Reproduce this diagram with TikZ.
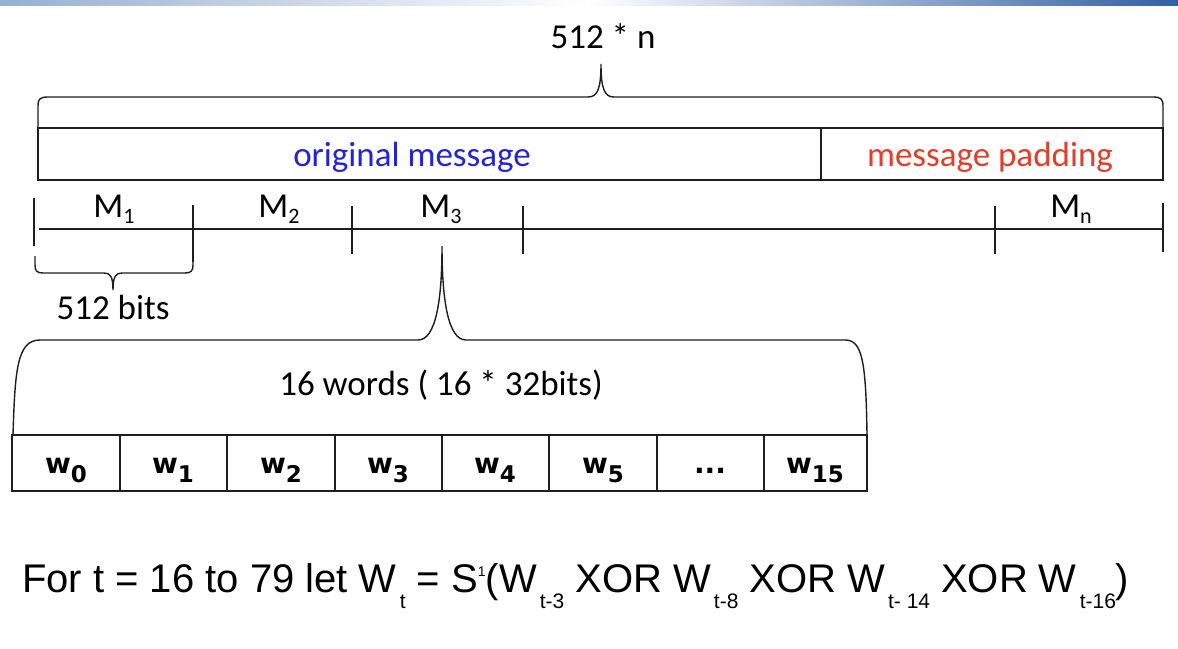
\documentclass[tikz,border=0pt]{standalone}
\usepackage{fontspec}
\setmainfont{Carlito}
\newfontfamily\formulafont{Liberation Sans}
\newfontfamily\wordfont{DejaVu Sans}
\usepackage{xcolor}
\usepackage{tikz}
\usetikzlibrary{positioning}

\definecolor{origblue}{RGB}{35,35,215}
\definecolor{padred}{RGB}{226,62,42}
\definecolor{barleft}{RGB}{150,175,210}
\definecolor{barright}{RGB}{50,95,165}
\definecolor{linegray}{RGB}{30,30,30}

\newcommand{\lowsub}[1]{\hspace{3pt}\raisebox{-16pt}{\fontsize{21}{21}\selectfont #1}}
\newcommand{\msub}[1]{\raisebox{-6pt}{\fontsize{22}{22}\selectfont #1}}
\newcommand{\wsub}[1]{\raisebox{-9pt}{\fontsize{23}{23}\selectfont #1}}

\tikzset{
  lbl/.style={font=\fontsize{35}{40}\selectfont, inner sep=0pt},
  wordlbl/.style={font=\wordfont\bfseries\fontsize{28}{32}\selectfont, inner sep=0pt},
  boxline/.style={draw=linegray, line width=1.8pt},
  brc/.style={draw=linegray, line width=1.4pt},
  tickline/.style={draw=linegray, line width=1.4pt}
}

\begin{document}
\begin{tikzpicture}[x=1pt, y=-1pt]
\useasboundingbox (0,0) rectangle (1178,648);
\fill[white] (0,0) rectangle (1178,648);
\shade[left color=barleft, right color=barright, middle color=white] (0,0) rectangle (1178,5);

\node[lbl] (total) at (603,36) {512 * n};
\draw[brc] (38,128) -- (38,106) .. controls (38,99) and (40,97) .. (48,97) -- (588,97) .. controls (597,97) and (601,90) .. (601,64) .. controls (601,90) and (605,97) .. (614,97) -- (1153,97) .. controls (1161,97) and (1163,99) .. (1163,106) -- (1163,128);

\draw[boxline] (38,128) rectangle (1163,180);
\draw[boxline] (821,128) -- (821,180);
\node[lbl, text=origblue] (orig) at (412,157) {original message};
\node[lbl, text=padred] (pad) at (990,157) {message padding};

\draw[tickline] (39,229) -- (1163,229);
\draw[tickline] (34,198) -- (34,246);
\draw[tickline] (193,205) -- (193,262);
\foreach \x in {352,523,995}
  \draw[tickline] (\x,206) -- (\x,254);
\draw[tickline] (1163,203) -- (1163,252);
\node[lbl, anchor=base] (m1) at (114,217) {M\msub{1}};
\node[lbl, anchor=base] (m2) at (279,217) {M\msub{2}};
\node[lbl, anchor=base] (m3) at (441,217) {M\msub{3}};
\node[lbl, anchor=base] (mn) at (1071,217) {M\msub{n}};

\draw[brc] (35,256) -- (35,265) .. controls (35,271) and (37,273) .. (43,273) -- (104,273) .. controls (110,273) and (113,276) .. (113,290) .. controls (113,276) and (116,273) .. (122,273) -- (185,273) .. controls (191,273) and (193,271) .. (193,265) -- (193,256);
\node[lbl] (bits) at (113,307) {512 bits};

\draw[brc] (13,435) .. controls (15,370) and (17,340) .. (40,340) -- (418,340) .. controls (436,340) and (442,300) .. (442,246) .. controls (442,300) and (448,340) .. (466,340) -- (845,340) .. controls (862,340) and (866,360) .. (867,435);
\node[lbl] (words) at (441,385) {16 words ( 16 * 32bits)};

\draw[boxline] (12,435) rectangle (867,491);
\foreach \x in {120,227,335,442,549,657,764}
  \draw[boxline] (\x,435) -- (\x,491);
\foreach \i/\x in {0/66,1/173,2/281,3/388,4/495,5/603}
  \node[wordlbl, anchor=base] (w\i) at (\x,473) {w\wsub{\i}};
\node[wordlbl, anchor=base] (wdots) at (710,473) {...};
\node[wordlbl, anchor=base] (w15) at (815,473) {w\wsub{15}};

\node[font=\formulafont\fontsize{40}{48}\selectfont, anchor=base west, inner sep=0pt] (rule) at (22,592) {For t = 16 to 79 let W\lowsub{t} = S\raisebox{16pt}{\fontsize{14}{14}\selectfont 1}(W\lowsub{t-3} XOR W\lowsub{t-8} XOR W\lowsub{t- 14} XOR W\lowsub{t-16})};
\end{tikzpicture}
\end{document}
